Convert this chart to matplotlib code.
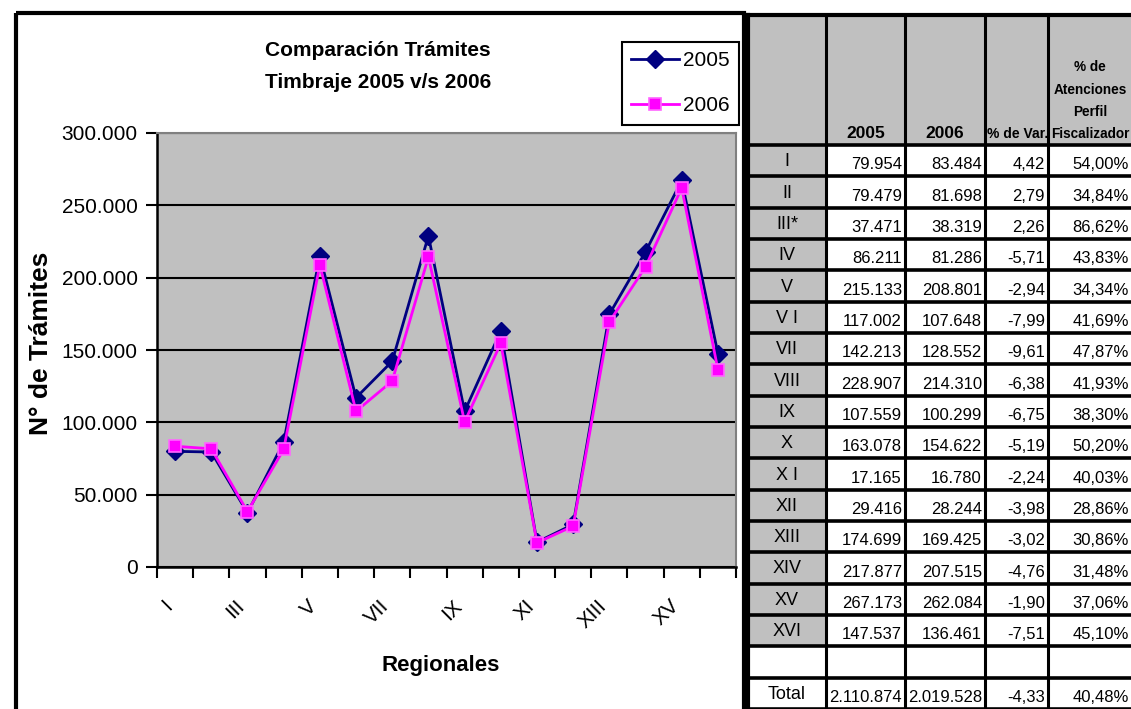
import matplotlib
matplotlib.use("Agg")
import matplotlib.pyplot as plt
import matplotlib.patches as pc
from matplotlib.transforms import ScaledTranslation
import numpy as np

# tramites de timbraje por regional
regiones = ["I", "II", "III", "IV", "V", "VI", "VII", "VIII", "IX", "X",
            "XI", "XII", "XIII", "XIV", "XV", "XVI"]
etiquetas_tabla = ["I", "II", "III*", "IV", "V", "V I", "VII", "VIII", "IX", "X",
                   "X I", "XII", "XIII", "XIV", "XV", "XVI"]
v2005 = [79954, 79479, 37471, 86211, 215133, 117002, 142213, 228907, 107559,
         163078, 17165, 29416, 174699, 217877, 267173, 147537]
v2006 = [83484, 81698, 38319, 81286, 208801, 107648, 128552, 214310, 100299,
         154622, 16780, 28244, 169425, 207515, 262084, 136461]
var_pct = ["4,42", "2,79", "2,26", "-5,71", "-2,94", "-7,99", "-9,61", "-6,38",
           "-6,75", "-5,19", "-2,24", "-3,98", "-3,02", "-4,76", "-1,90", "-7,51"]
aten_pct = ["54,00%", "34,84%", "86,62%", "43,83%", "34,34%", "41,69%", "47,87%",
            "41,93%", "38,30%", "50,20%", "40,03%", "28,86%", "30,86%", "31,48%",
            "37,06%", "45,10%"]
total = ["Total", "2.110.874", "2.019.528", "-4,33", "40,48%"]

W, H = 1131, 709
GRIS = "#C0C0C0"
ARIAL = ["Liberation Sans", "DejaVu Sans"]


def miles(v, pos=None):
    return "{:,}".format(int(v)).replace(",", ".")


fig = plt.figure(figsize=(W / 100, H / 100), dpi=100)

# capa de fondo en pixeles para marco y tabla
ov = fig.add_axes([0, 0, 1, 1], zorder=0)
ov.set_xlim(0, W)
ov.set_ylim(H, 0)
ov.axis("off")

ax = fig.add_axes([157 / W, 1 - 567 / H, (736 - 157) / W, (567 - 133) / H], zorder=2)
ax.set_facecolor(GRIS)
x = np.arange(len(regiones))
ax.plot(x, v2005, color="#000080", lw=2, marker="D", ms=9,
        mfc="#000080", mec="#000080", label="2005", zorder=3)
ax.plot(x, v2006, color="#FF00FF", lw=2, marker="s", ms=8.5,
        mfc="#FF00FF", mec="#FF66FF", mew=1.2, label="2006", zorder=4)

ax.set_xlim(-0.5, len(regiones) - 0.5)
ax.set_ylim(0, 300000)
ax.set_yticks(np.arange(0, 300001, 50000))
ax.yaxis.set_major_formatter(miles)
ax.yaxis.grid(True, color="black", lw=1.5)
ax.set_axisbelow(True)

ax.set_xticks(x[::2])
ax.set_xticklabels(regiones[::2], rotation=45, ha="right", rotation_mode="anchor",
                   family=ARIAL, fontsize=15)
ax.set_xticks(np.arange(-0.5, len(regiones)), minor=True)
ax.tick_params(axis="x", which="major", length=0, pad=21)
ax.tick_params(axis="x", which="minor", length=8, width=1.5, direction="out")
ax.tick_params(axis="y", length=8, width=1.5, direction="out", pad=6)
desplazo = ScaledTranslation(-9 / 72, 0, fig.dpi_scale_trans)
for t in ax.get_xticklabels():
    t.set_transform(t.get_transform() + desplazo)
for t in ax.get_yticklabels():
    t.set_family(ARIAL)
    t.set_fontsize(15)

for s in ["left", "bottom"]:
    ax.spines[s].set_color("black")
    ax.spines[s].set_linewidth(1.8)
for s in ["top", "right"]:
    ax.spines[s].set_color("#808080")
    ax.spines[s].set_linewidth(1.5)

leg = ax.legend(loc="upper left", bbox_to_anchor=(622 / W, 1 - 42 / H),
                bbox_transform=fig.transFigure, fancybox=False, framealpha=1,
                edgecolor="black", prop={"family": ARIAL, "size": 15},
                handlelength=2.3, borderpad=0.45, labelspacing=1.25,
                handletextpad=0.2, borderaxespad=0)
leg.get_frame().set_linewidth(1.5)

fig.text(378 / W, 1 - 50 / H, "Comparación Trámites", ha="center", va="center",
         family=ARIAL, fontsize=15, fontweight="bold")
fig.text(378 / W, 1 - 83 / H, "Timbraje 2005 v/s 2006", ha="center", va="center",
         family=ARIAL, fontsize=15, fontweight="bold")
fig.text(41 / W, 1 - 343 / H, "N° de Trámites", rotation=90, ha="center", va="center",
         family=ARIAL, fontsize=19, fontweight="bold")
fig.text(441 / W, 1 - 665 / H, "Regionales", ha="center", va="center",
         family=ARIAL, fontsize=16, fontweight="bold")

# marco del grafico
ov.add_patch(pc.Rectangle((16, 13), 728, 710, fill=False, lw=3, ec="black"))

# tabla
cols = [748, 826, 905, 985, 1048, 1136]
top, hb = 15, 145
nfilas = len(regiones) + 2
rh = (H - hb) / nfilas
ov.add_patch(pc.Rectangle((cols[0], top), cols[-1] - cols[0], hb - top,
                          fc=GRIS, ec="none"))
for i in range(len(regiones)):
    ov.add_patch(pc.Rectangle((cols[0], hb + i * rh), cols[1] - cols[0], rh,
                              fc=GRIS, ec="none"))

for cx in cols:
    ov.plot([cx, cx], [top, H + 2], color="black", lw=2.2 if cx != cols[0] else 3)
ov.plot([cols[0], cols[-1]], [top, top], color="black", lw=3)
for i in range(nfilas + 1):
    yy = hb + i * rh
    ov.plot([cols[0], cols[-1]], [yy, yy], color="black", lw=2.6)

enc = dict(family=ARIAL, fontweight="bold", va="bottom", ha="center")
ov.text((cols[1] + cols[2]) / 2, hb - 4, "2005", fontsize=12.5, **enc)
ov.text((cols[2] + cols[3]) / 2, hb - 4, "2006", fontsize=12.5, **enc)
ov.text((cols[3] + cols[4]) / 2 + 1, hb - 4, "% de Var.", fontsize=10, **enc)
ov.text((cols[4] + cols[5] - 4) / 2, hb - 4, "% de\nAtenciones\nPerfil\nFiscalizador",
        linespacing=1.75, fontsize=9.8, **enc)

filas = [[etiquetas_tabla[i], miles(v2005[i]), miles(v2006[i]), var_pct[i], aten_pct[i]]
         for i in range(len(regiones))]
filas.append(["", "", "", "", ""])
filas.append(total)
for i, fila in enumerate(filas):
    y0 = hb + i * rh
    ov.text((cols[0] + cols[1]) / 2, y0 + rh / 2 + 1, fila[0], ha="center", va="center",
            family=ARIAL, fontsize=13)
    for j in range(1, 5):
        ov.text(cols[j + 1] - (3 if j < 4 else 7), y0 + rh - 4, fila[j],
                ha="right", va="bottom", family=ARIAL, fontsize=12)

fig.savefig("out.png", dpi=100)
